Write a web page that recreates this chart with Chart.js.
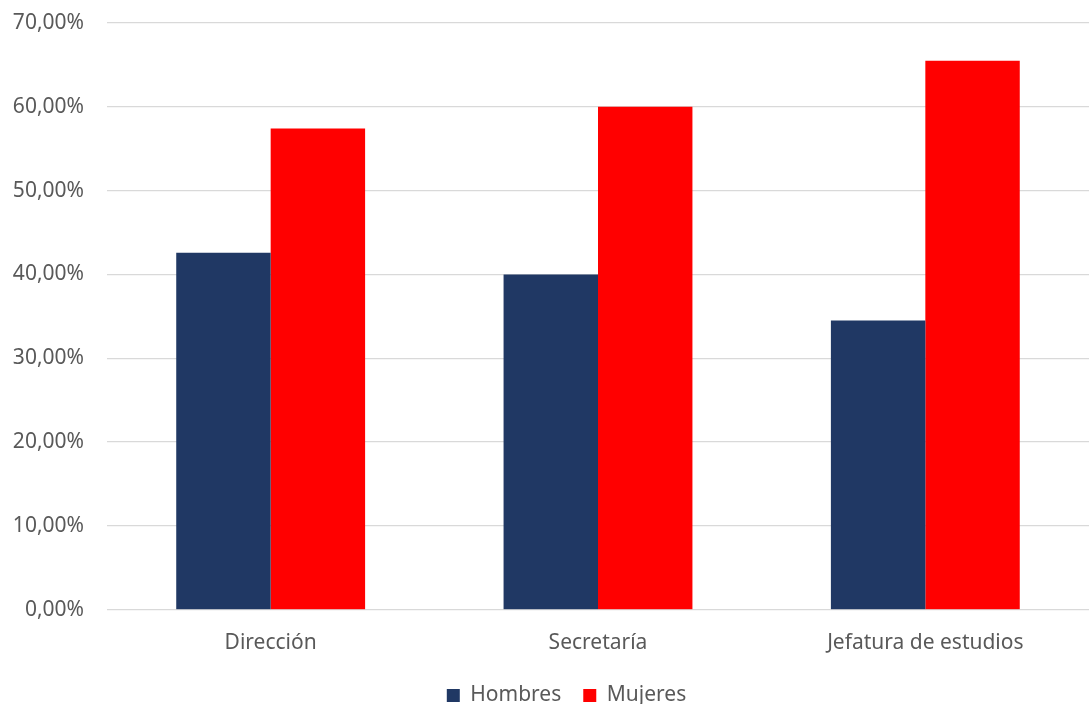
<!DOCTYPE html>
<html>
<head>
<meta charset="utf-8">
<script src="https://cdn.jsdelivr.net/npm/chart.js@4"></script>
<style>
  html, body { margin: 0; padding: 0; background: #ffffff; }
  #wrap { width: 1089px; height: 704px; }
</style>
</head>
<body>
<div id="wrap"><canvas id="cargosChart"></canvas></div>
<script>
const categorias = ["Dirección", "Secretaría", "Jefatura de estudios"];
const hombres = [42.6, 40.0, 34.5];
const mujeres = [57.4, 60.0, 65.5];
const ticksY = [0, 10, 20, 30, 40, 50, 60, 70];

const fuente = "'Noto Sans', 'Open Sans', sans-serif";
const gris = "#595959";

// la leyenda del original no está centrada en el lienzo
const moverLeyenda = {
    id: "moverLeyenda",
    afterLayout(chart) {
        chart.legend.left += 22;
        chart.legend.right += 22;
        chart.legend.top -= 6;
        chart.legend.bottom -= 6;
    }
};

new Chart(document.getElementById("cargosChart"), {
    type: "bar",
    data: {
        labels: categorias,
        datasets: [{
            label: "Hombres",
            data: hombres,
            backgroundColor: "#203864",
            categoryPercentage: 0.577,
            barPercentage: 1.0
        }, {
            label: "Mujeres",
            data: mujeres,
            backgroundColor: "#ff0000",
            categoryPercentage: 0.577,
            barPercentage: 1.0
        }]
    },
    plugins: [moverLeyenda],
    options: {
        responsive: true,
        maintainAspectRatio: false,
        animation: false,
        layout: { padding: { top: 23, right: 0, left: 0, bottom: -18 } },
        plugins: {
            tooltip: { enabled: false },
            legend: {
                position: "bottom",
                labels: {
                    color: gris,
                    font: { family: fuente, size: 21 },
                    boxWidth: 13,
                    boxHeight: 13,
                    padding: 22
                }
            }
        },
        scales: {
            x: {
                grid: { display: false },
                border: { color: "#d9d9d9", width: 1 },
                ticks: {
                    color: gris,
                    font: { family: fuente, size: 21 },
                    padding: 13
                }
            },
            y: {
                min: 0,
                max: 70,
                afterBuildTicks: function (axis) {
                    axis.ticks = ticksY.map(v => ({ value: v }));
                },
                afterFit: function (axis) {
                    axis.width = 107;
                    axis.paddingTop = 0;
                    axis.paddingBottom = 0;
                },
                grid: { color: "#d9d9d9", lineWidth: 1.3, drawTicks: false },
                border: { display: false },
                ticks: {
                    color: gris,
                    font: { family: fuente, size: 21 },
                    padding: 23,
                    callback: function (v) {
                        return v.toFixed(2).replace(".", ",") + "%";
                    }
                }
            }
        }
    }
});
</script>
</body>
</html>
